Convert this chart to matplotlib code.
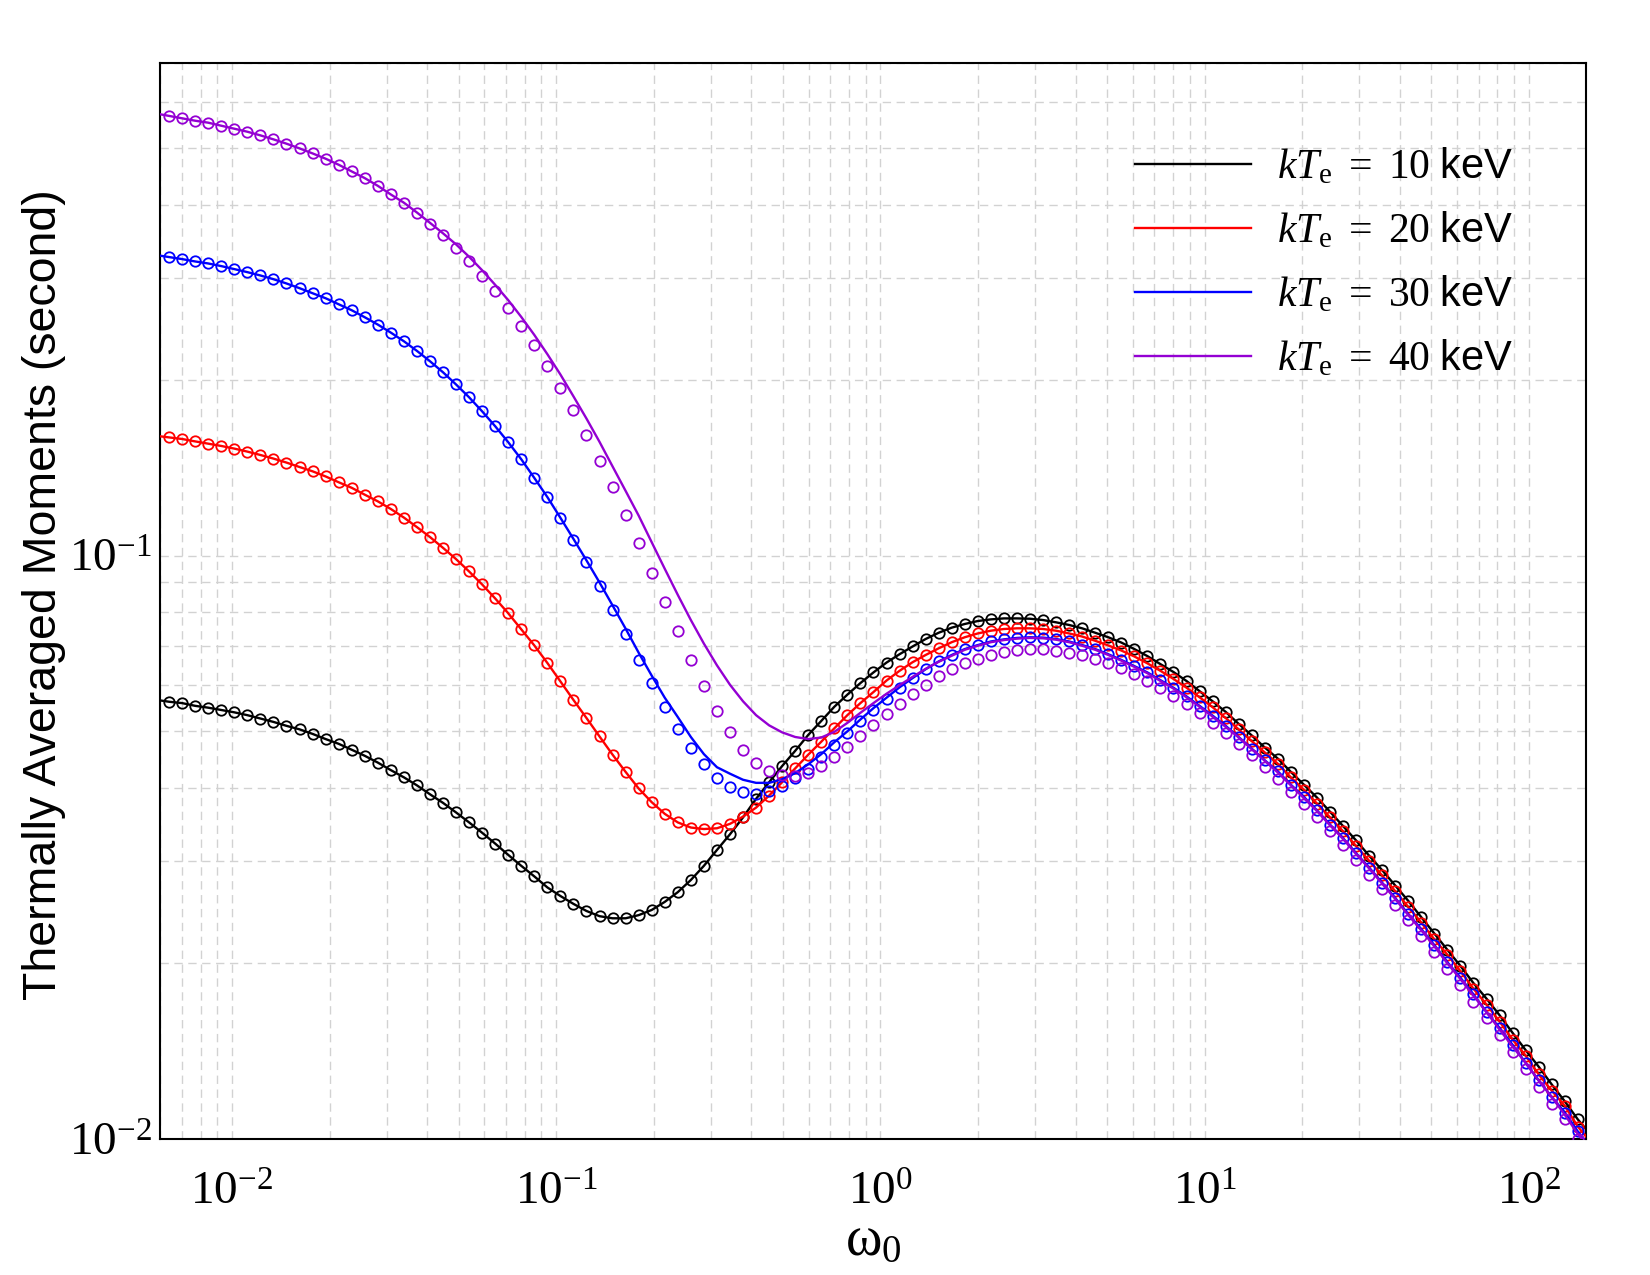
import numpy as np
import matplotlib
matplotlib.use('Agg')
import matplotlib.pyplot as plt
from matplotlib.ticker import NullFormatter

plt.rcParams['font.family'] = 'Liberation Serif'
plt.rcParams['mathtext.fontset'] = 'custom'
plt.rcParams['mathtext.rm'] = 'Liberation Serif'
plt.rcParams['mathtext.it'] = 'Liberation Serif:italic'
plt.rcParams['mathtext.sf'] = 'Liberation Sans'
plt.rcParams['axes.unicode_minus'] = False

# omega_0 grid of the open circles (evenly spaced in log), lines run to the axis edges
omega_pts = np.logspace(-2.194, 2.151, 109)
omega_line = np.concatenate([[0.006], omega_pts, [150.0]])

labels = [r'$kT_{\mathrm{e}}\ =\ 10\ \mathsf{keV}$', r'$kT_{\mathrm{e}}\ =\ 20\ \mathsf{keV}$',
          r'$kT_{\mathrm{e}}\ =\ 30\ \mathsf{keV}$', r'$kT_{\mathrm{e}}\ =\ 40\ \mathsf{keV}$']
colors = ['black', 'red', 'blue', '#9400d3']

# kTe = 10 keV (circles and line coincide)
kt10_pts = [0.0562, 0.0559, 0.0553, 0.0549, 0.0544, 0.0539, 0.0533, 0.0526, 0.0519, 0.0511,
            0.0504, 0.0495, 0.0485, 0.0476, 0.0465, 0.0454, 0.0442, 0.0429, 0.0417, 0.0404,
            0.0390, 0.0377, 0.0363, 0.0349, 0.0335, 0.0321, 0.0307, 0.0294, 0.0282, 0.0270,
            0.0261, 0.0253, 0.0246, 0.0241, 0.0239, 0.0239, 0.0242, 0.0247, 0.0255, 0.0265,
            0.0278, 0.0294, 0.0313, 0.0333, 0.0356, 0.0383, 0.0409, 0.0436, 0.0463, 0.0493,
            0.0521, 0.0551, 0.0578, 0.0605, 0.0631, 0.0656, 0.0678, 0.0699, 0.0720, 0.0738,
            0.0753, 0.0764, 0.0773, 0.0778, 0.0781, 0.0781, 0.0780, 0.0776, 0.0769, 0.0761,
            0.0751, 0.0738, 0.0725, 0.0710, 0.0692, 0.0673, 0.0652, 0.0632, 0.0610, 0.0586,
            0.0563, 0.0540, 0.0515, 0.0492, 0.0469, 0.0449, 0.0426, 0.0405, 0.0385, 0.0364,
            0.0344, 0.0325, 0.0306, 0.0289, 0.0272, 0.0256, 0.0240, 0.0225, 0.0211, 0.0198,
            0.0185, 0.0174, 0.0163, 0.0152, 0.0142, 0.0133, 0.0124, 0.0116, 0.0108]
kt10_ends = (0.0565, 0.0104)

# kTe = 20 keV
kt20_pts = [0.1596, 0.1586, 0.1571, 0.1557, 0.1543, 0.1527, 0.1509, 0.1489, 0.1468, 0.1445,
            0.1420, 0.1396, 0.1368, 0.1337, 0.1308, 0.1273, 0.1240, 0.1203, 0.1163, 0.1120,
            0.1077, 0.1032, 0.0987, 0.0940, 0.0893, 0.0845, 0.0797, 0.0748, 0.0702, 0.0655,
            0.0609, 0.0566, 0.0527, 0.0490, 0.0456, 0.0426, 0.0399, 0.0378, 0.0361, 0.0349,
            0.0342, 0.0340, 0.0341, 0.0347, 0.0357, 0.0370, 0.0388, 0.0409, 0.0432, 0.0456,
            0.0480, 0.0506, 0.0533, 0.0559, 0.0584, 0.0611, 0.0635, 0.0657, 0.0676, 0.0694,
            0.0711, 0.0725, 0.0736, 0.0744, 0.0749, 0.0751, 0.0751, 0.0749, 0.0744, 0.0736,
            0.0727, 0.0715, 0.0702, 0.0688, 0.0672, 0.0654, 0.0635, 0.0615, 0.0594, 0.0572,
            0.0550, 0.0527, 0.0504, 0.0481, 0.0460, 0.0440, 0.0417, 0.0397, 0.0376, 0.0356,
            0.0337, 0.0318, 0.0300, 0.0283, 0.0266, 0.0250, 0.0235, 0.0220, 0.0207, 0.0194,
            0.0181, 0.0170, 0.0159, 0.0148, 0.0139, 0.0129, 0.0121, 0.0114, 0.0105]
kt20_ends = (0.1603, 0.0101)

# kTe = 30 keV
kt30_pts = [0.3253, 0.3227, 0.3197, 0.3172, 0.3139, 0.3102, 0.3065, 0.3025, 0.2981, 0.2931,
            0.2877, 0.2820, 0.2765, 0.2700, 0.2637, 0.2565, 0.2492, 0.2414, 0.2333, 0.2246,
            0.2156, 0.2064, 0.1967, 0.1870, 0.1769, 0.1668, 0.1566, 0.1464, 0.1360, 0.1261,
            0.1162, 0.1065, 0.0974, 0.0888, 0.0808, 0.0733, 0.0664, 0.0604, 0.0551, 0.0505,
            0.0468, 0.0439, 0.0416, 0.0401, 0.0393, 0.0390, 0.0395, 0.0403, 0.0416, 0.0431,
            0.0451, 0.0473, 0.0496, 0.0520, 0.0545, 0.0569, 0.0593, 0.0617, 0.0639, 0.0659,
            0.0676, 0.0692, 0.0703, 0.0713, 0.0719, 0.0723, 0.0725, 0.0724, 0.0720, 0.0713,
            0.0703, 0.0692, 0.0678, 0.0663, 0.0647, 0.0631, 0.0612, 0.0594, 0.0574, 0.0553,
            0.0532, 0.0511, 0.0489, 0.0467, 0.0446, 0.0427, 0.0405, 0.0386, 0.0366, 0.0346,
            0.0328, 0.0309, 0.0292, 0.0275, 0.0259, 0.0243, 0.0229, 0.0215, 0.0201, 0.0189,
            0.0177, 0.0165, 0.0155, 0.0145, 0.0135, 0.0126, 0.0118, 0.0111, 0.0103]
# the 30 keV line leaves the circles between points 31 and 56
kt30_line_mid = [0.1069, 0.0982, 0.0900, 0.0822, 0.0750, 0.0682, 0.0623, 0.0571, 0.0529, 0.0489,
                 0.0457, 0.0434, 0.0423, 0.0413, 0.0408, 0.0408, 0.0414, 0.0424, 0.0439, 0.0457,
                 0.0479, 0.0500, 0.0524, 0.0548, 0.0571, 0.0595]
kt30_ends = (0.3271, 0.0099)

# kTe = 40 keV
kt40_pts = [0.5680, 0.5626, 0.5573, 0.5530, 0.5464, 0.5400, 0.5336, 0.5260, 0.5178, 0.5090,
            0.4996, 0.4898, 0.4797, 0.4684, 0.4562, 0.4443, 0.4310, 0.4165, 0.4020, 0.3864,
            0.3705, 0.3548, 0.3370, 0.3197, 0.3016, 0.2843, 0.2662, 0.2479, 0.2296, 0.2120,
            0.1943, 0.1776, 0.1611, 0.1456, 0.1312, 0.1176, 0.1051, 0.0936, 0.0832, 0.0743,
            0.0664, 0.0597, 0.0542, 0.0499, 0.0465, 0.0442, 0.0428, 0.0421, 0.0419, 0.0424,
            0.0436, 0.0451, 0.0470, 0.0491, 0.0513, 0.0535, 0.0557, 0.0579, 0.0601, 0.0622,
            0.0640, 0.0654, 0.0666, 0.0676, 0.0685, 0.0690, 0.0692, 0.0692, 0.0688, 0.0682,
            0.0676, 0.0666, 0.0655, 0.0643, 0.0628, 0.0611, 0.0594, 0.0576, 0.0557, 0.0538,
            0.0517, 0.0496, 0.0476, 0.0456, 0.0434, 0.0415, 0.0394, 0.0375, 0.0356, 0.0337,
            0.0319, 0.0301, 0.0284, 0.0268, 0.0252, 0.0237, 0.0223, 0.0209, 0.0196, 0.0184,
            0.0172, 0.0161, 0.0151, 0.0141, 0.0132, 0.0123, 0.0115, 0.0108, 0.0100]
# the 40 keV line from point 18 on
kt40_line_rest = [0.4032, 0.3879, 0.3724, 0.3573, 0.3420, 0.3257, 0.3088, 0.2915, 0.2744, 0.2568,
                  0.2392, 0.2217, 0.2046, 0.1877, 0.1719, 0.1568, 0.1423, 0.1292, 0.1172, 0.1055,
                  0.0950, 0.0857, 0.0776, 0.0707, 0.0649, 0.0601, 0.0563, 0.0533, 0.0512, 0.0498,
                  0.0489, 0.0485, 0.0488, 0.0499, 0.0517, 0.0538, 0.0559, 0.0580, 0.0600, 0.0620,
                  0.0640, 0.0658,
                  0.0674, 0.0690, 0.0701, 0.0711, 0.0717, 0.0721, 0.0723, 0.0722, 0.0718, 0.0711,
                  0.0701, 0.0690, 0.0676, 0.0661, 0.0645, 0.0629, 0.0610, 0.0592, 0.0572, 0.0551,
                  0.0530, 0.0509, 0.0488, 0.0466, 0.0445, 0.0425, 0.0404, 0.0384, 0.0365, 0.0345,
                  0.0327, 0.0308, 0.0291, 0.0274, 0.0258, 0.0242, 0.0228, 0.0214, 0.0200, 0.0188,
                  0.0176, 0.0165, 0.0154, 0.0144, 0.0135, 0.0126, 0.0118, 0.0110, 0.0102]
kt40_ends = (0.5717, 0.0098)

line10 = [kt10_ends[0]] + kt10_pts + [kt10_ends[1]]
line20 = [kt20_ends[0]] + kt20_pts + [kt20_ends[1]]
line30 = [kt30_ends[0]] + kt30_pts[:31] + kt30_line_mid + kt30_pts[57:] + [kt30_ends[1]]
line40 = [kt40_ends[0]] + kt40_pts[:18] + kt40_line_rest + [kt40_ends[1]]

fig = plt.figure(figsize=(16.5, 12.75), dpi=100)
ax = fig.add_axes([0.097, 0.1067, 0.8642, 0.8439])

lines = [line10, line20, line30, line40]
pts = [kt10_pts, kt20_pts, kt30_pts, kt40_pts]
for ln, p, c, lab in zip(lines, pts, colors, labels):
    ax.plot(omega_line, ln, color=c, lw=1.7, label=lab, zorder=3)
    ax.plot(omega_pts, p, 'o', mfc='none', mec=c, ms=7.5, mew=1.3, zorder=3)

ax.set_xscale('log')
ax.set_yscale('log')
ax.set_xlim(0.006, 150)
ax.set_ylim(0.01, 0.7)

ax.grid(True, which='both', color='#d2d2d2', linestyle=(0, (6, 4)), linewidth=1.0)
ax.set_axisbelow(True)
ax.tick_params(which='both', length=0, labelsize=34)
ax.tick_params(axis='x', pad=24)
ax.tick_params(axis='y', pad=6)
ax.yaxis.set_minor_formatter(NullFormatter())
ax.xaxis.set_minor_formatter(NullFormatter())
for s in ax.spines.values():
    s.set_linewidth(1.5)

ax.set_xlabel(r'$\mathrm{\omega}_{\mathrm{0}}$', fontsize=40, labelpad=0)
ax.set_ylabel('Thermally Averaged Moments (second)', family='Liberation Sans', fontsize=33.5)
ax.yaxis.set_label_coords(-0.066, 0.506)

ax.legend(loc='upper left', bbox_to_anchor=(0.684, 0.922), frameon=False, fontsize=30,
          handlelength=2.77, handletextpad=0.62, labelspacing=0.56, borderpad=0, borderaxespad=0)

fig.savefig('out.png', dpi=100)
